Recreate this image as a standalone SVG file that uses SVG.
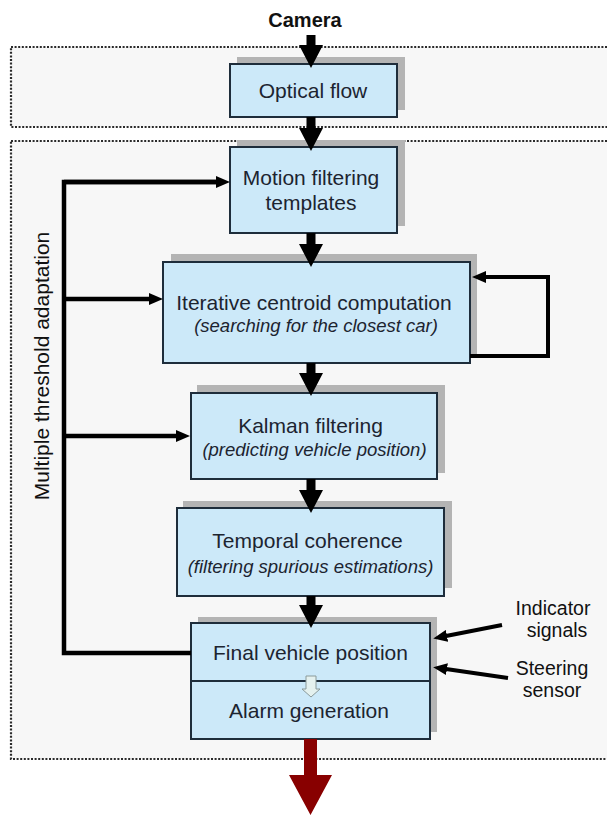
<svg xmlns="http://www.w3.org/2000/svg" width="607" height="816" viewBox="0 0 607 816">
<style>
.frame{fill:#f7f7f7;stroke:#2a2a2a;stroke-width:2.2;stroke-dasharray:2 1.6}
.box{fill:#cce9f9;stroke:#1e2d3b;stroke-width:2}
.shadow{fill:#b4b4b4}
.t{font-family:"Liberation Sans",Arial,sans-serif;font-size:21px;fill:#1c2430;text-anchor:middle}
.i{font-family:"Liberation Sans",Arial,sans-serif;font-size:18.5px;font-style:italic;fill:#1c2430;text-anchor:middle}
.lbl{font-family:"Liberation Sans",Arial,sans-serif;font-size:21px;fill:#111;text-anchor:middle}
.side{font-family:"Liberation Sans",Arial,sans-serif;font-size:19.5px;fill:#111;text-anchor:middle}
.big{fill:#000}
.line{fill:none;stroke:#000;stroke-width:4.5}
.thin{fill:none;stroke:#000;stroke-width:4}
</style>
<defs>
<marker id="ah" viewBox="0 0 14 12" refX="1" refY="6" markerWidth="14" markerHeight="12" markerUnits="userSpaceOnUse" orient="auto">
<path d="M0,0 L14,6 L0,12 z" fill="#000"/>
</marker>
</defs>
<rect width="607" height="816" fill="#ffffff"/>
<g id="frames">
<rect class="frame" x="11" y="47" width="602" height="80"/>
<rect class="frame" x="11" y="141" width="602" height="618"/>
</g>
<g id="camera">
<text x="305" y="27" font-family="Liberation Sans,Arial,sans-serif" font-size="20" font-weight="bold" fill="#111" text-anchor="middle">Camera</text>
</g>
<g id="optical-flow">
<rect class="shadow" x="237" y="57" width="168" height="53"/>
<rect class="box" x="230" y="64" width="167" height="53"/>
<text class="t" x="313" y="98">Optical flow</text>
</g>
<g id="motion-filtering">
<rect class="shadow" x="237" y="140" width="168" height="86"/>
<rect class="box" x="230" y="147" width="167" height="86"/>
<text class="t" x="311" y="185">Motion filtering</text>
<text class="t" x="311" y="210">templates</text>
</g>
<g id="iterative-centroid">
<rect class="shadow" x="171" y="254" width="306" height="101"/>
<rect class="box" x="163" y="262" width="307" height="101"/>
<text class="t" x="314" y="310">Iterative centroid computation</text>
<text class="i" x="316" y="332">(searching for the closest car)</text>
</g>
<g id="kalman">
<rect class="shadow" x="197" y="385" width="248" height="88"/>
<rect class="box" x="191" y="393" width="246" height="86"/>
<text class="t" x="310.5" y="433">Kalman filtering</text>
<text class="i" x="314.5" y="456">(predicting vehicle position)</text>
</g>
<g id="temporal">
<rect class="shadow" x="183" y="501" width="269" height="87"/>
<rect class="box" x="177" y="508" width="267" height="88"/>
<text class="t" x="307.5" y="548">Temporal coherence</text>
<text class="i" x="310.5" y="573">(filtering spurious estimations)</text>
</g>
<g id="final">
<rect class="shadow" x="198" y="617" width="239" height="115"/>
<rect class="box" x="191" y="623" width="239" height="116"/>
<line x1="191" y1="681" x2="430" y2="681" stroke="#1e2d3b" stroke-width="2"/>
<text class="t" x="310.5" y="660">Final vehicle position</text>
<path d="M306,676 L316,676 L316,689 L320,689 L311,697 L302,689 L306,689 z" fill="#e4f1ef" stroke="#8a9a9a" stroke-width="1"/>
<text class="t" x="309" y="718">Alarm generation</text>
</g>
<g id="side-labels">
<text class="side" x="553" y="615">Indicator</text>
<text class="side" x="557" y="637">signals</text>
<text class="side" x="552" y="675">Steering</text>
<text class="side" x="552" y="697">sensor</text>
<text class="lbl" transform="translate(49,366) rotate(-90)">Multiple threshold adaptation</text>
</g>
<g id="connectors">
<path class="big" d="M306.5,35 L315.5,35 L315.5,45 L323,45 L311,68 L299,45 L306.5,45 z"/>
<path class="big" d="M306.5,117 L315.5,117 L315.5,128 L323,128 L311,151 L299,128 L306.5,128 z"/>
<path class="big" d="M306.5,233 L315.5,233 L315.5,244 L323,244 L311,267 L299,244 L306.5,244 z"/>
<path class="big" d="M306.5,363 L315.5,363 L315.5,373 L323,373 L311,396 L299,373 L306.5,373 z"/>
<path class="big" d="M306.5,479 L315.5,479 L315.5,490 L323,490 L311,513 L299,490 L306.5,490 z"/>
<path class="big" d="M306.5,596 L315.5,596 L315.5,605 L323,605 L311,628 L299,605 L306.5,605 z"/>
<path d="M304,739 L317,739 L317,775 L332,775 L310.5,815 L289,775 L304,775 z" fill="#880000"/>
<path class="line" d="M217,182 L64,182 L64,653 L191,653"/>
<line class="line" x1="64" y1="182" x2="217" y2="182" marker-end="url(#ah)"/>
<line class="line" x1="64" y1="299" x2="150" y2="299" marker-end="url(#ah)"/>
<line class="line" x1="64" y1="436" x2="177" y2="436" marker-end="url(#ah)"/>
<path class="thin" d="M470,356 L548,356 L548,277 L485,277" marker-end="url(#ah)"/>
<line class="thin" x1="502" y1="625" x2="446" y2="636" marker-end="url(#ah)"/>
<line class="thin" x1="508" y1="678" x2="446" y2="669" marker-end="url(#ah)"/>
</g>
</svg>
